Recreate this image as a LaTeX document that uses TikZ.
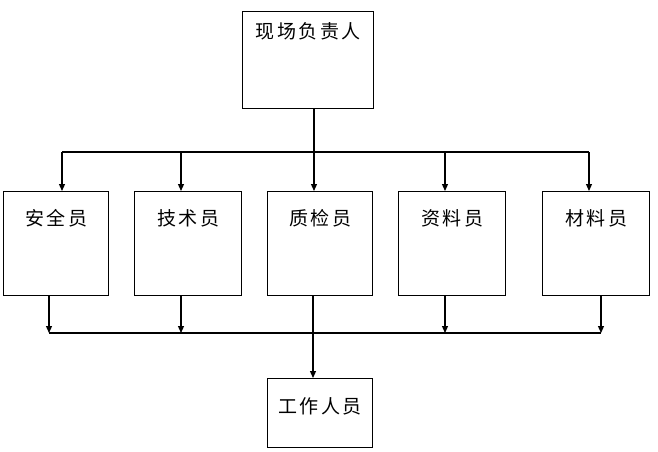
\documentclass[tikz,border=0pt]{standalone}
\usepackage{fontspec}
\newfontfamily\cjk[LetterSpace=13]{Noto Sans CJK SC}
\usetikzlibrary{positioning,arrows.meta}

\tikzset{
  post/.style={draw, inner sep=0pt, anchor=north west, font=\cjk\fontsize{19}{19}\selectfont},
  staff/.style={post, text height=34pt, text depth=70pt},
  drop/.style={-{Triangle[length=7pt,width=6pt]}}
}

\begin{document}
\begin{tikzpicture}[x=1pt,y=-1pt,line width=1.2pt]
        \useasboundingbox (0,0) rectangle (658,452);
        % top
        \node[post,minimum width=131pt,text height=26.5pt,text depth=70.5pt] (lead) at (242,11) {现场负责人};
        % middle row
        \node[staff,minimum width=105pt] (safety) at (3,191) {安全员};
        \node[staff,minimum width=107pt] (tech) at (134,191) {技术员};
        \node[staff,minimum width=105pt] (quality) at (267,191) {质检员};
        \node[staff,minimum width=107pt] (data) at (398,191) {资料员};
        \node[staff,minimum width=107pt] (material) at (542,191) {材料员};
        % bottom
        \node[post,minimum width=105pt,text height=35pt,text depth=34pt] (workers) at (267,378) {工作人员};
        % upper bus
        \coordinate (t1) at (62,152);
        \coordinate (t2) at (181,152);
        \coordinate (t3) at (314,152);
        \coordinate (t4) at (445,152);
        \coordinate (t5) at (589,152);
        \draw (t1) -- (t5);
        \draw[drop] (t3 |- lead.south) -- (t3 |- quality.north);
        \foreach \t/\n in {t1/safety, t2/tech, t4/data, t5/material} {
            \draw[drop] (\t) -- (\t |- \n.north);
        }
        % lower bus
        \coordinate (b1) at (49,333);
        \coordinate (b2) at (181,333);
        \coordinate (b3) at (313,333);
        \coordinate (b4) at (445,333);
        \coordinate (b5) at (601,333);
        \draw (b1) -- (b5);
        \foreach \b/\n in {b1/safety, b2/tech, b4/data, b5/material} {
            \draw[drop] (\b |- \n.south) -- (\b);
        }
        \draw[drop] (b3 |- quality.south) -- (b3 |- workers.north);
    \end{tikzpicture}
\end{document}
